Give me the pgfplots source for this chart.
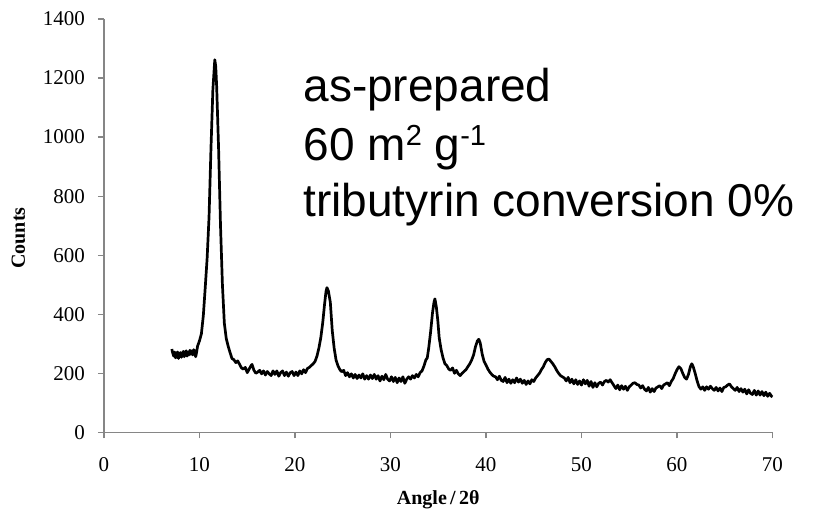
\documentclass[border=0pt]{standalone}
\usepackage{fontspec}
\setmainfont{Liberation Serif}
\newfontfamily\arial{Liberation Sans}
\usepackage{pgfplots}
\pgfplotsset{compat=1.18}
\definecolor{axgray}{HTML}{868686}
\newcommand{\sups}[1]{\raisebox{7.5pt}{\fontsize{14.5}{14.5}\selectfont #1}}
\begin{document}
\begin{tikzpicture}
\begin{axis}[
  name=ax,
  scale only axis,
  width=334.25pt, height=206.65pt,
  xmin=0, xmax=70, ymin=0, ymax=1400,
  xtick={0,10,...,70}, ytick={0,200,...,1400},
  axis x line*=bottom, axis y line*=left,
  axis line style={axgray, line width=0.6pt, -},
  tick style={axgray, line width=0.6pt},
  tick align=outside, major tick length=3pt,
  /pgf/number format/assume math mode=true,
  /pgf/number format/set thousands separator={},
  tick label style={font=\fontsize{10.5}{12}\selectfont},
  yticklabel style={xshift=-3pt},
  xticklabel style={yshift=-6pt},
  xlabel={\textbf{Angle\,/\,2θ}},
  ylabel={\textbf{Counts}},
  label style={font=\fontsize{10.5}{12}\selectfont},
  every axis x label/.style={at={(axis description cs:0.5,-0.164)}, anchor=center},
  every axis y label/.style={at={(axis description cs:-0.128,0.47)}, anchor=center, rotate=90},
  clip=false,
]
\addplot[black, line width=1.35pt, line join=round] coordinates {
(7.1,282) (7.2,268) (7.3,258) (7.4,272) (7.5,252) (7.6,264) (7.7,272) (7.8,250) (7.9,264) (8.0,270)
(8.1,254) (8.2,266) (8.3,274) (8.4,256) (8.5,270) (8.6,276) (8.7,258) (8.8,272) (8.9,262) (9.0,278)
(9.1,264) (9.2,276) (9.3,262) (9.4,280) (9.5,270) (9.6,256) (9.7,272) (9.8,292) (10.0,310) (10.2,334)
(10.4,395) (10.6,490) (10.8,590) (11.0,730) (11.2,960) (11.4,1160) (11.6,1262) (11.7,1240) (11.8,1170) (12.0,960)
(12.2,700) (12.4,500) (12.6,370) (12.8,318) (13.0,292) (13.2,270) (13.4,250) (13.6,246) (13.8,236) (14.0,242)
(14.2,230) (14.4,218) (14.6,214) (14.8,220) (15.0,202) (15.2,214) (15.4,226) (15.5,230) (15.7,210) (15.9,200)
(16.1,204) (16.3,210) (16.5,198) (16.7,208) (16.9,194) (17.1,206) (17.3,198) (17.5,192) (17.7,208) (17.9,196)
(18.1,208) (18.3,190) (18.5,202) (18.7,208) (18.9,192) (19.1,204) (19.3,190) (19.5,202) (19.7,206) (19.9,192)
(20.1,204) (20.3,192) (20.5,208) (20.7,198) (20.9,212) (21.1,202) (21.3,216) (21.5,220) (21.7,226) (21.9,232)
(22.1,240) (22.3,258) (22.5,285) (22.7,320) (22.9,370) (23.1,435) (23.25,478) (23.35,490) (23.5,478) (23.7,440)
(23.9,345) (24.1,285) (24.3,245) (24.5,225) (24.7,212) (24.9,205) (25.1,210) (25.3,192) (25.5,202) (25.7,188)
(25.9,198) (26.1,184) (26.3,196) (26.5,182) (26.7,194) (26.9,184) (27.1,198) (27.3,180) (27.5,192) (27.7,180)
(27.9,194) (28.1,182) (28.3,196) (28.5,180) (28.7,192) (28.9,174) (29.1,190) (29.3,178) (29.5,196) (29.7,180)
(29.9,174) (30.1,188) (30.3,172) (30.5,186) (30.7,168) (30.9,184) (31.1,172) (31.3,188) (31.5,166) (31.7,180)
(31.9,188) (32.1,180) (32.3,192) (32.5,184) (32.7,196) (32.9,188) (33.1,202) (33.3,208) (33.5,224) (33.7,245)
(33.85,252) (34.0,285) (34.2,340) (34.4,405) (34.55,440) (34.65,452) (34.8,425) (34.95,380) (35.1,320) (35.3,280)
(35.5,252) (35.7,232) (35.9,226) (36.1,214) (36.3,210) (36.5,218) (36.7,200) (36.9,210) (37.1,198) (37.3,192)
(37.5,200) (37.7,206) (37.9,212) (38.1,222) (38.3,232) (38.5,245) (38.7,262) (38.9,290) (39.1,310) (39.25,315)
(39.4,302) (39.6,265) (39.8,240) (40.0,228) (40.2,214) (40.4,204) (40.6,196) (40.8,190) (41.0,188) (41.2,178)
(41.4,190) (41.6,176) (41.8,172) (42.0,186) (42.2,168) (42.4,180) (42.6,166) (42.8,178) (43.0,168) (43.2,184)
(43.4,170) (43.6,180) (43.8,166) (44.0,176) (44.2,162) (44.4,174) (44.6,164) (44.8,178) (45.0,172) (45.2,184)
(45.4,192) (45.6,200) (45.8,212) (46.0,222) (46.2,236) (46.4,246) (46.6,248) (46.8,240) (47.0,232) (47.2,222)
(47.4,210) (47.6,200) (47.8,192) (48.0,188) (48.2,184) (48.4,174) (48.6,186) (48.8,168) (49.0,180) (49.2,164)
(49.4,178) (49.6,162) (49.8,174) (50.0,160) (50.2,178) (50.4,164) (50.6,176) (50.8,156) (51.0,172) (51.2,152)
(51.4,168) (51.6,154) (51.8,166) (52.0,170) (52.2,160) (52.4,172) (52.6,176) (52.8,170) (53.0,178) (53.2,168)
(53.4,158) (53.6,148) (53.8,160) (54.0,144) (54.2,158) (54.4,146) (54.6,156) (54.8,142) (55.0,154) (55.2,160)
(55.4,166) (55.6,168) (55.8,162) (56.0,160) (56.2,150) (56.4,158) (56.6,146) (56.8,140) (57.0,152) (57.2,136)
(57.4,148) (57.6,138) (57.8,150) (58.0,154) (58.2,158) (58.4,148) (58.6,160) (58.8,164) (59.0,168) (59.2,158)
(59.4,172) (59.6,182) (59.8,198) (60.0,212) (60.2,222) (60.4,216) (60.6,200) (60.8,186) (61.0,180) (61.2,196)
(61.4,222) (61.55,232) (61.7,222) (61.9,200) (62.1,175) (62.3,155) (62.5,146) (62.7,154) (62.9,142) (63.1,154)
(63.3,146) (63.5,156) (63.7,148) (63.9,142) (64.1,152) (64.3,140) (64.5,150) (64.7,138) (64.9,152) (65.1,154)
(65.3,160) (65.5,164) (65.7,154) (65.9,148) (66.1,142) (66.3,152) (66.5,138) (66.7,148) (66.9,136) (67.1,146)
(67.3,130) (67.5,144) (67.7,132) (67.9,128) (68.1,142) (68.3,126) (68.5,140) (68.7,126) (68.9,138) (69.1,124)
(69.3,136) (69.5,122) (69.7,132) (69.9,122) (70.0,120)
};
\node[anchor=base west, inner sep=0pt, font=\arial\fontsize{23}{26}\selectfont] at (axis cs:20.85,1120) {as-prepared};
\node[anchor=base west, inner sep=0pt, font=\arial\fontsize{23}{26}\selectfont] at (axis cs:20.85,920) {60 m\sups{2} g\sups{-1}};
\node[anchor=base west, inner sep=0pt, font=\arial\fontsize{23}{26}\selectfont] at (axis cs:20.85,730) {tributyrin conversion 0\%};
\end{axis}
\pgfresetboundingbox
\path[use as bounding box] ([shift={(-52pt,-39.85pt)}]ax.south west) rectangle ([shift={(357.5pt,216.15pt)}]ax.south west);
\end{tikzpicture}
\end{document}
